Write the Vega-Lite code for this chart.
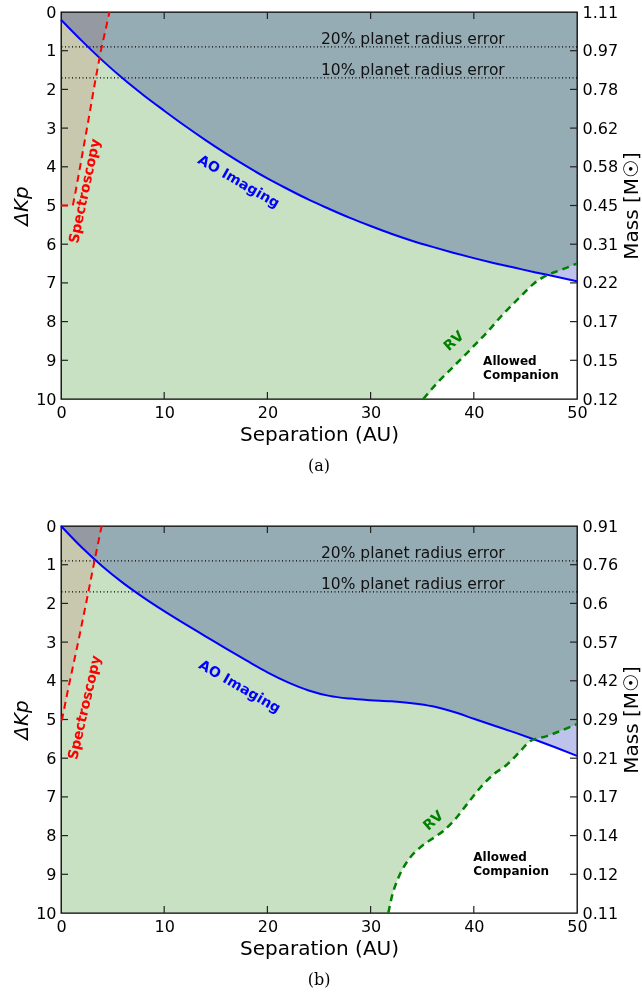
{
  "$schema": "https://vega.github.io/schema/vega-lite/v6.json",
  "background": "white",
  "padding": {"left": 10, "top": 3, "right": 2, "bottom": 4},
  "spacing": 42,
  "datasets": {
    "rvA": [{"x":0,"y":10},{"x":35.1,"y":10},{"x":36.4,"y":9.6},{"x":38.0,"y":9.17},{"x":39.6,"y":8.74},{"x":41.3,"y":8.27},{"x":42.9,"y":7.79},{"x":44.5,"y":7.36},{"x":45.8,"y":7.02},{"x":47.1,"y":6.8},{"x":48.4,"y":6.67},{"x":50,"y":6.5}],
    "aoA": [{"x":0,"y":0.2},{"x":2,"y":0.74},{"x":4,"y":1.25},{"x":6,"y":1.72},{"x":8,"y":2.15},{"x":10,"y":2.55},{"x":12,"y":2.94},{"x":14,"y":3.31},{"x":16,"y":3.66},{"x":18,"y":3.99},{"x":20,"y":4.3},{"x":22,"y":4.58},{"x":24,"y":4.85},{"x":26,"y":5.09},{"x":28,"y":5.32},{"x":30,"y":5.53},{"x":32,"y":5.73},{"x":34,"y":5.91},{"x":36,"y":6.07},{"x":38,"y":6.22},{"x":40,"y":6.36},{"x":42,"y":6.49},{"x":44,"y":6.61},{"x":46,"y":6.73},{"x":48,"y":6.84},{"x":50,"y":6.96}],
    "specA": [{"k":0,"x":0,"y":5},{"k":1,"x":1.15,"y":5},{"k":2,"x":1.4,"y":4.66},{"k":3,"x":1.93,"y":3.88},{"k":4,"x":2.62,"y":2.85},{"k":5,"x":3.35,"y":1.73},{"k":6,"x":3.9,"y":0.96},{"k":7,"x":4.7,"y":0}],
    "rvB": [{"x":0,"y":10},{"x":31.72,"y":10},{"x":32.04,"y":9.6},{"x":32.69,"y":9.09},{"x":33.17,"y":8.83},{"x":33.82,"y":8.57},{"x":34.79,"y":8.31},{"x":36.08,"y":8.06},{"x":37.05,"y":7.88},{"x":38.02,"y":7.63},{"x":39.31,"y":7.2},{"x":40.6,"y":6.77},{"x":41.9,"y":6.42},{"x":43.2,"y":6.17},{"x":44.5,"y":5.82},{"x":45.45,"y":5.56},{"x":47.07,"y":5.43},{"x":48.36,"y":5.3},{"x":50,"y":5.12}],
    "aoB": [{"x":0,"y":0},{"x":2,"y":0.55},{"x":4,"y":1.04},{"x":6,"y":1.47},{"x":8,"y":1.85},{"x":10,"y":2.2},{"x":12,"y":2.53},{"x":14,"y":2.85},{"x":16,"y":3.17},{"x":18,"y":3.48},{"x":20,"y":3.78},{"x":22,"y":4.04},{"x":24,"y":4.25},{"x":26,"y":4.39},{"x":28,"y":4.46},{"x":30,"y":4.5},{"x":32,"y":4.53},{"x":34,"y":4.58},{"x":36,"y":4.66},{"x":38,"y":4.8},{"x":40,"y":4.98},{"x":42,"y":5.16},{"x":44,"y":5.34},{"x":46,"y":5.53},{"x":48,"y":5.73},{"x":50,"y":5.94}],
    "specB": [{"k":0,"x":0,"y":5},{"k":1,"x":0.1,"y":5},{"k":2,"x":0.71,"y":4.19},{"k":3,"x":1.68,"y":2.98},{"k":4,"x":2.65,"y":1.71},{"k":5,"x":3.23,"y":0.92},{"k":6,"x":3.94,"y":0}],
    "radius": [{"x":43.0,"y":0.9,"t":"20% planet radius error"},{"x":43.0,"y":1.7,"t":"10% planet radius error"}],
    "yt": [{"v":1},{"v":2},{"v":3},{"v":4},{"v":5},{"v":6},{"v":7},{"v":8},{"v":9}],
    "xt": [{"v":10},{"v":20},{"v":30},{"v":40}]
  },
  "vconcat": [
    {
      "width": 516, "height": 387,
      "title": {"text": "(a)", "orient": "bottom", "font": "DejaVu Serif", "fontSize": 16, "fontWeight": "normal", "offset": 14, "anchor": "middle", "frame": "group"},
      "resolve": {"axis": {"x": "independent", "y": "independent"}},
      "layer": [
        {"data": {"name": "rvA"}, "mark": {"type": "area", "color": "#c8e1c3", "blend": "multiply", "interpolate": "monotone"},
         "encoding": {
           "x": {"field": "x", "type": "quantitative", "scale": {"domain": [0, 50], "nice": false, "zero": false}, "axis": {"orient": "bottom", "values": [0,10,20,30,40,50], "ticks": false, "title": "Separation (AU)"}},
           "y": {"field": "y", "type": "quantitative", "scale": {"domain": [0, 10], "reverse": true, "nice": false}, "axis": {"orient": "left", "values": [0,1,2,3,4,5,6,7,8,9,10], "ticks": false, "title": "ΔKp", "titleFontStyle": "italic"}},
           "y2": {"datum": 0}}},
        {"data": {"name": "aoA"}, "mark": {"type": "area", "color": "#bec3eb", "blend": "multiply", "interpolate": "monotone"},
         "encoding": {
           "x": {"field": "x", "type": "quantitative", "axis": null},
           "y": {"field": "y", "type": "quantitative", "axis": {"orient": "right", "values": [0,1,2,3,4,5,6,7,8,9,10], "ticks": false, "labelExpr": "['1.11','0.97','0.78','0.62','0.58','0.45','0.31','0.22','0.17','0.15','0.12'][datum.value]", "title": "Mass [M☉]", "titleAngle": 270, "titleBaseline": "top", "titlePadding": 4}},
           "y2": {"datum": 0}}},
        {"data": {"name": "specA"}, "transform": [{"filter": "datum.k >= 1"}], "mark": {"type": "area", "orient": "horizontal", "color": "#ffe3e5", "blend": "multiply"},
         "encoding": {
           "y": {"field": "y", "type": "quantitative", "axis": null},
           "x": {"field": "x", "type": "quantitative", "axis": null},
           "x2": {"datum": 0}}},
        {"data": {"name": "radius"}, "mark": {"type": "rule", "color": "black", "strokeDash": [1, 2.5], "strokeWidth": 1.2},
         "encoding": {"y": {"field": "y", "type": "quantitative", "axis": null}}},
        {"data": {"name": "radius"}, "mark": {"type": "text", "align": "right", "baseline": "alphabetic", "dy": -3, "fontSize": 15.5, "color": "#111"},
         "encoding": {"x": {"field": "x", "type": "quantitative", "axis": null}, "y": {"field": "y", "type": "quantitative", "axis": null}, "text": {"field": "t"}}},
        {"data": {"name": "yt"}, "mark": {"type": "rule", "color": "#222", "strokeWidth": 1.2},
         "encoding": {"y": {"field": "v", "type": "quantitative", "axis": null}, "x": {"datum": 0, "type": "quantitative", "axis": null}, "x2": {"datum": 0.68}}},
        {"data": {"name": "yt"}, "mark": {"type": "rule", "color": "#222", "strokeWidth": 1.2},
         "encoding": {"y": {"field": "v", "type": "quantitative", "axis": null}, "x": {"datum": 50, "type": "quantitative", "axis": null}, "x2": {"datum": 49.32}}},
        {"data": {"name": "xt"}, "mark": {"type": "rule", "color": "#222", "strokeWidth": 1.2},
         "encoding": {"x": {"field": "v", "type": "quantitative", "axis": null}, "y": {"datum": 0, "type": "quantitative", "axis": null}, "y2": {"datum": 0.18}}},
        {"data": {"name": "xt"}, "mark": {"type": "rule", "color": "#222", "strokeWidth": 1.2},
         "encoding": {"x": {"field": "v", "type": "quantitative", "axis": null}, "y": {"datum": 10, "type": "quantitative", "axis": null}, "y2": {"datum": 9.82}}},
        {"data": {"name": "aoA"}, "mark": {"type": "line", "color": "#0000ff", "strokeWidth": 2, "interpolate": "monotone"},
         "encoding": {"x": {"field": "x", "type": "quantitative", "axis": null}, "y": {"field": "y", "type": "quantitative", "axis": null}}},
        {"data": {"name": "specA"}, "mark": {"type": "line", "color": "#ff0000", "strokeWidth": 2, "strokeDash": [7, 5]},
         "encoding": {"x": {"field": "x", "type": "quantitative", "axis": null}, "y": {"field": "y", "type": "quantitative", "axis": null}, "order": {"field": "k"}}},
        {"data": {"name": "rvA"}, "transform": [{"filter": "datum.x >= 35"}], "mark": {"type": "line", "color": "#008000", "strokeWidth": 2.5, "strokeDash": [7, 5], "interpolate": "monotone"},
         "encoding": {"x": {"field": "x", "type": "quantitative", "axis": null}, "y": {"field": "y", "type": "quantitative", "axis": null}}},
        {"data": {"values": [{"x": 17.2, "y": 4.39, "t": "AO Imaging"}]}, "mark": {"type": "text", "angle": 30, "fontWeight": "bold", "fontSize": 14, "color": "#0000ff", "align": "center", "baseline": "middle"},
         "encoding": {"x": {"field": "x", "type": "quantitative", "axis": null}, "y": {"field": "y", "type": "quantitative", "axis": null}, "text": {"field": "t"}}},
        {"data": {"values": [{"x": 2.33, "y": 4.63, "t": "Spectroscopy"}]}, "mark": {"type": "text", "angle": 282, "fontWeight": "bold", "fontSize": 14, "color": "#ff0000", "align": "center", "baseline": "middle"},
         "encoding": {"x": {"field": "x", "type": "quantitative", "axis": null}, "y": {"field": "y", "type": "quantitative", "axis": null}, "text": {"field": "t"}}},
        {"data": {"values": [{"x": 38.1, "y": 8.51, "t": "RV"}]}, "mark": {"type": "text", "angle": 318, "fontWeight": "bold", "fontSize": 14, "color": "#008000", "align": "center", "baseline": "middle"},
         "encoding": {"x": {"field": "x", "type": "quantitative", "axis": null}, "y": {"field": "y", "type": "quantitative", "axis": null}, "text": {"field": "t"}}},
        {"data": {"values": [{"x": 40.9, "y": 8.88, "t": "Allowed\nCompanion"}]}, "mark": {"type": "text", "lineBreak": "\n", "lineHeight": 14, "fontWeight": "bold", "fontSize": 12, "color": "black", "align": "left", "baseline": "top"},
         "encoding": {"x": {"field": "x", "type": "quantitative", "axis": null}, "y": {"field": "y", "type": "quantitative", "axis": null}, "text": {"field": "t"}}}
      ]
    },
    {
      "width": 516, "height": 387,
      "title": {"text": "(b)", "orient": "bottom", "font": "DejaVu Serif", "fontSize": 16, "fontWeight": "normal", "offset": 14, "anchor": "middle", "frame": "group"},
      "resolve": {"axis": {"x": "independent", "y": "independent"}},
      "layer": [
        {"data": {"name": "rvB"}, "mark": {"type": "area", "color": "#c8e1c3", "blend": "multiply", "interpolate": "monotone"},
         "encoding": {
           "x": {"field": "x", "type": "quantitative", "scale": {"domain": [0, 50], "nice": false, "zero": false}, "axis": {"orient": "bottom", "values": [0,10,20,30,40,50], "ticks": false, "title": "Separation (AU)"}},
           "y": {"field": "y", "type": "quantitative", "scale": {"domain": [0, 10], "reverse": true, "nice": false}, "axis": {"orient": "left", "values": [0,1,2,3,4,5,6,7,8,9,10], "ticks": false, "title": "ΔKp", "titleFontStyle": "italic"}},
           "y2": {"datum": 0}}},
        {"data": {"name": "aoB"}, "mark": {"type": "area", "color": "#bec3eb", "blend": "multiply", "interpolate": "monotone"},
         "encoding": {
           "x": {"field": "x", "type": "quantitative", "axis": null},
           "y": {"field": "y", "type": "quantitative", "axis": {"orient": "right", "values": [0,1,2,3,4,5,6,7,8,9,10], "ticks": false, "labelExpr": "['0.91','0.76','0.6','0.57','0.42','0.29','0.21','0.17','0.14','0.12','0.11'][datum.value]", "title": "Mass [M☉]", "titleAngle": 270, "titleBaseline": "top", "titlePadding": 4}},
           "y2": {"datum": 0}}},
        {"data": {"name": "specB"}, "transform": [{"filter": "datum.k >= 1"}], "mark": {"type": "area", "orient": "horizontal", "color": "#ffe3e5", "blend": "multiply"},
         "encoding": {
           "y": {"field": "y", "type": "quantitative", "axis": null},
           "x": {"field": "x", "type": "quantitative", "axis": null},
           "x2": {"datum": 0}}},
        {"data": {"name": "radius"}, "mark": {"type": "rule", "color": "black", "strokeDash": [1, 2.5], "strokeWidth": 1.2},
         "encoding": {"y": {"field": "y", "type": "quantitative", "axis": null}}},
        {"data": {"name": "radius"}, "mark": {"type": "text", "align": "right", "baseline": "alphabetic", "dy": -3, "fontSize": 15.5, "color": "#111"},
         "encoding": {"x": {"field": "x", "type": "quantitative", "axis": null}, "y": {"field": "y", "type": "quantitative", "axis": null}, "text": {"field": "t"}}},
        {"data": {"name": "yt"}, "mark": {"type": "rule", "color": "#222", "strokeWidth": 1.2},
         "encoding": {"y": {"field": "v", "type": "quantitative", "axis": null}, "x": {"datum": 0, "type": "quantitative", "axis": null}, "x2": {"datum": 0.68}}},
        {"data": {"name": "yt"}, "mark": {"type": "rule", "color": "#222", "strokeWidth": 1.2},
         "encoding": {"y": {"field": "v", "type": "quantitative", "axis": null}, "x": {"datum": 50, "type": "quantitative", "axis": null}, "x2": {"datum": 49.32}}},
        {"data": {"name": "xt"}, "mark": {"type": "rule", "color": "#222", "strokeWidth": 1.2},
         "encoding": {"x": {"field": "v", "type": "quantitative", "axis": null}, "y": {"datum": 0, "type": "quantitative", "axis": null}, "y2": {"datum": 0.18}}},
        {"data": {"name": "xt"}, "mark": {"type": "rule", "color": "#222", "strokeWidth": 1.2},
         "encoding": {"x": {"field": "v", "type": "quantitative", "axis": null}, "y": {"datum": 10, "type": "quantitative", "axis": null}, "y2": {"datum": 9.82}}},
        {"data": {"name": "aoB"}, "mark": {"type": "line", "color": "#0000ff", "strokeWidth": 2, "interpolate": "monotone"},
         "encoding": {"x": {"field": "x", "type": "quantitative", "axis": null}, "y": {"field": "y", "type": "quantitative", "axis": null}}},
        {"data": {"name": "specB"}, "mark": {"type": "line", "color": "#ff0000", "strokeWidth": 2, "strokeDash": [7, 5]},
         "encoding": {"x": {"field": "x", "type": "quantitative", "axis": null}, "y": {"field": "y", "type": "quantitative", "axis": null}, "order": {"field": "k"}}},
        {"data": {"name": "rvB"}, "transform": [{"filter": "datum.x >= 31"}], "mark": {"type": "line", "color": "#008000", "strokeWidth": 2.5, "strokeDash": [7, 5], "interpolate": "monotone"},
         "encoding": {"x": {"field": "x", "type": "quantitative", "axis": null}, "y": {"field": "y", "type": "quantitative", "axis": null}}},
        {"data": {"values": [{"x": 17.3, "y": 4.16, "t": "AO Imaging"}]}, "mark": {"type": "text", "angle": 30, "fontWeight": "bold", "fontSize": 14, "color": "#0000ff", "align": "center", "baseline": "middle"},
         "encoding": {"x": {"field": "x", "type": "quantitative", "axis": null}, "y": {"field": "y", "type": "quantitative", "axis": null}, "text": {"field": "t"}}},
        {"data": {"values": [{"x": 2.33, "y": 4.69, "t": "Spectroscopy"}]}, "mark": {"type": "text", "angle": 283, "fontWeight": "bold", "fontSize": 14, "color": "#ff0000", "align": "center", "baseline": "middle"},
         "encoding": {"x": {"field": "x", "type": "quantitative", "axis": null}, "y": {"field": "y", "type": "quantitative", "axis": null}, "text": {"field": "t"}}},
        {"data": {"values": [{"x": 36.1, "y": 7.62, "t": "RV"}]}, "mark": {"type": "text", "angle": 318, "fontWeight": "bold", "fontSize": 14, "color": "#008000", "align": "center", "baseline": "middle"},
         "encoding": {"x": {"field": "x", "type": "quantitative", "axis": null}, "y": {"field": "y", "type": "quantitative", "axis": null}, "text": {"field": "t"}}},
        {"data": {"values": [{"x": 39.95, "y": 8.42, "t": "Allowed\nCompanion"}]}, "mark": {"type": "text", "lineBreak": "\n", "lineHeight": 14, "fontWeight": "bold", "fontSize": 12, "color": "black", "align": "left", "baseline": "top"},
         "encoding": {"x": {"field": "x", "type": "quantitative", "axis": null}, "y": {"field": "y", "type": "quantitative", "axis": null}, "text": {"field": "t"}}}
      ]
    }
  ],
  "config": {
    "font": "DejaVu Sans",
    "view": {"stroke": "black", "strokeWidth": 1.3},
    "axis": {"grid": false, "domain": false, "labelFont": "DejaVu Sans", "labelFontSize": 16, "labelColor": "black", "labelPadding": 5, "labelFlush": false, "labelOverlap": false, "titleFont": "DejaVu Sans", "titleFontSize": 20, "titleFontWeight": "normal", "titleColor": "black"},
    "title": {"color": "black"}
  }
}
